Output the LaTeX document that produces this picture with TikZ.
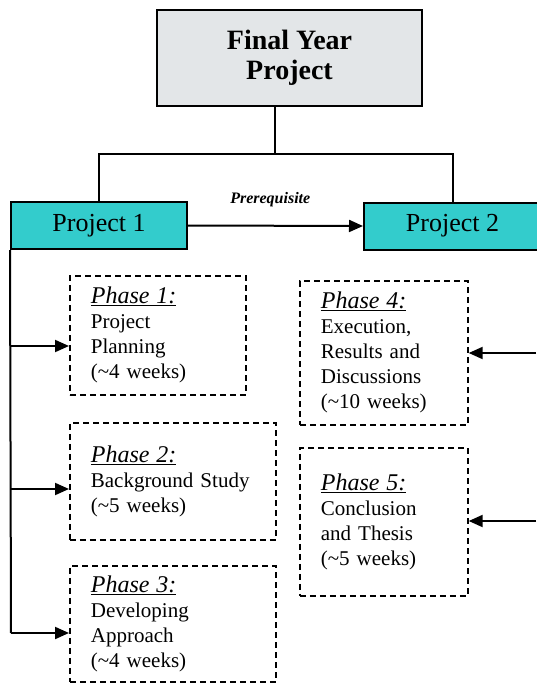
\documentclass[tikz,border=0pt]{standalone}
\usepackage{fontspec}
\setmainfont{Liberation Serif}
\usepackage{tikz}
\usetikzlibrary{arrows.meta,positioning}
\usepackage{xcolor}
\definecolor{marble}{HTML}{E3E6E8}
\definecolor{projteal}{HTML}{33CCCC}
\newcommand{\phasehead}[1]{{\fontsize{24}{25}\selectfont\itshape\underline{#1}}}

\begin{document}
\begin{tikzpicture}[
    x=1pt, y=-1pt,
    title/.style={rectangle, draw, line width=2pt, fill=marble, minimum width=265pt, minimum height=96pt, align=center, font=\fontsize{28}{30}\selectfont\bfseries},
    project/.style={rectangle, draw, line width=2pt, fill=projteal, minimum height=47pt, font=\fontsize{26}{30}\selectfont},
    phase/.style={rectangle, draw, dash pattern=on 6pt off 4pt, line width=1.7pt, anchor=north west, align=left, inner xsep=21pt, font=\fontsize{21}{25}\selectfont},
    label/.style={font=\fontsize{16}{16}\selectfont\bfseries\itshape},
    link/.style={line width=2pt},
    arrow/.style={-{Triangle[length=14pt,width=12pt]}, line width=2pt}
]
\useasboundingbox (0,0) rectangle (536,683);

\node[title] (fyp) at (289.5,58) {Final Year\\Project};
\node[project, minimum width=176pt] (proj1) at (99,225.5) {Project 1};
\node[project, minimum width=177pt, anchor=west] (proj2) at (363,226) {Project 2};

\coordinate (split) at (275,154);
\draw[link] (fyp.south -| split) -- (split);
\draw[link] (proj1.north) |- (split) -| (proj2.north);
\draw[arrow] (proj1.east) -- node[label, above=14pt, pos=0.47] (prereq) {Prerequisite} (proj2.west);

% Phases of each project
\node[phase, text width=134pt, minimum height=119pt] (ph1) at (69,275) {\phasehead{Phase 1:}\\Project\\Planning\\(\textasciitilde4 weeks)};
\node[phase, text width=164pt, minimum height=117pt] (ph2) at (69,422) {\phasehead{Phase 2:}\\Background Study\\(\textasciitilde5 weeks)};
\node[phase, text width=164pt, minimum height=116pt] (ph3) at (69,565) {\phasehead{Phase 3:}\\Developing\\Approach\\(\textasciitilde4 weeks)};
\node[phase, text width=126pt, minimum height=144pt] (ph4) at (299,280) {\phasehead{Phase 4:}\\Execution,\\Results and\\Discussions\\(\textasciitilde10 weeks)};
\node[phase, text width=126pt, minimum height=148pt] (ph5) at (299,447) {\phasehead{Phase 5:}\\Conclusion\\and Thesis\\(\textasciitilde5 weeks)};

\coordinate (in1) at (11,346);
\coordinate (in2) at (11,489);
\coordinate (in3) at (11,633);
\coordinate (out4) at (536,353);
\coordinate (out5) at (536,521);

\draw[link] (proj1.south west) -- (in3);
\draw[arrow] (in1) -- (in1 -| ph1.west);
\draw[arrow] (in2) -- (in2 -| ph2.west);
\draw[arrow] (in3) -- (in3 -| ph3.west);
\draw[arrow] (out4) -- (out4 -| ph4.east);
\draw[arrow] (out5) -- (out5 -| ph5.east);
\end{tikzpicture}
\end{document}
